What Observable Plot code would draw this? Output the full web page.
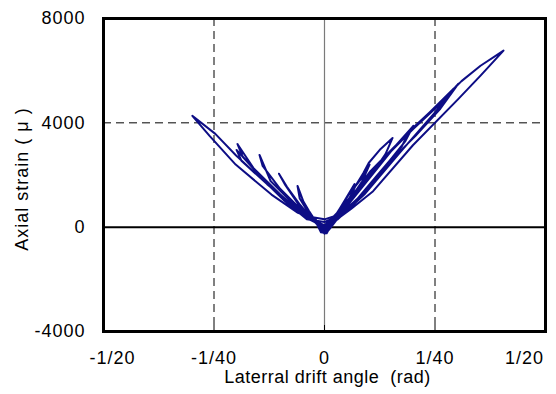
<!DOCTYPE html>
<html><head><meta charset="utf-8">
<script src="https://cdn.jsdelivr.net/npm/d3@7"></script>
<script src="https://cdn.jsdelivr.net/npm/@observablehq/plot@0.6"></script>
<style>
body{margin:0;background:#fff}
#chart svg text{font-family:"Liberation Sans",Arial,sans-serif;letter-spacing:1px}
#chart svg text.ttl{letter-spacing:0.6px}
</style></head><body><div id="chart"></div>
<script>
const driftAngle = [
  0, 0.0015, 0.0025, 0.0012, 0, -0.0013, -0.0025, -0.0012, 0,
  0.0018, 0.0035, 0.005, 0.0032, 0.0012, 0, -0.0018, -0.0035, -0.005, -0.0032, -0.0012, 0,
  0.002, 0.0045, 0.0068, 0.0066, 0.0042, 0.0015, 0.0005, -0.0008, -0.0018, -0.0042, -0.0061, -0.0056, -0.0035, -0.0012, 0,
  0.0022, 0.0055, 0.0085, 0.0102, 0.0085, 0.005, 0.0018, 0, -0.0025, -0.0055, -0.0085, -0.0103, -0.009, -0.0055, -0.0022, 0,
  0.0025, 0.0059, 0.007, 0.0088, 0.01, 0.0127, 0.0154, 0.0138, 0.0104, 0.0059, 0.0025, 0, -0.0032, -0.0077, -0.0122, -0.0147, -0.014, -0.01, -0.0054, -0.0014, 0.0005,
  0.0036, 0.0104, 0.016, 0.0201, 0.0183, 0.0138, 0.0081, 0.0032, 0, -0.004, -0.009, -0.015, -0.0197, -0.0185, -0.014, -0.008, -0.003, 0,
  0.004, 0.01, 0.0155, 0.0192, 0.0175, 0.012, 0.007, 0.002, 0, -0.004, -0.01, -0.016, -0.0199, -0.0188, -0.013, -0.007, -0.002, 0.0005,
  0.005, 0.012, 0.02, 0.026, 0.0303, 0.0262, 0.0206, 0.0149, 0.0093, 0.0036, 0, -0.005, -0.012, -0.02, -0.0247, -0.0299, -0.026, -0.0201, -0.012, -0.006, -0.002, -0.0005, 0.001,
  0.006, 0.015, 0.022, 0.0292, 0.025, 0.017, 0.009, 0.003, 0,
  0.006, 0.013, 0.02, 0.026, 0.031, 0.0353, 0.0405, 0.0353, 0.0303, 0.02, 0.011, 0.006, 0.002, 0
];
const axialStrain = [
  0, 180, 420, 120, -120, 120, 380, 80, -150,
  200, 650, 1080, 520, 30, -220, 180, 620, 1050, 480, 40, -230,
  300, 1000, 1650, 1400, 720, 80, -230, -200, 150, 720, 1580, 1100, 520, 20, -250,
  380, 1250, 1900, 2400, 1750, 880, 120, -200, 250, 850, 1550, 2050, 1650, 780, 200, -180,
  460, 1150, 1580, 2077, 2460, 3000, 3420, 2800, 1960, 1000, 420, 80, 310, 1000, 1770, 2770, 2350, 1460, 690, 150, -100,
  620, 2150, 3110, 3885, 3300, 2350, 1190, 420, 200, 300, 1000, 2000, 3190, 2700, 1850, 950, 300, -50,
  700, 2000, 3000, 3700, 3100, 2000, 1000, 250, 0, 350, 1250, 2250, 2960, 2550, 1650, 800, 200, -50,
  950, 2400, 3750, 4700, 5500, 4540, 3500, 2540, 1380, 500, 300, 450, 1500, 2750, 3577, 4269, 3500, 2400, 1250, 550, 300, -150, -100,
  1000, 2900, 4100, 5310, 4400, 2850, 1250, 300, 50,
  1100, 2550, 3800, 4750, 5600, 6190, 6770, 5808, 4920, 3140, 1380, 700, 200, 0
];
const xTicks = [-0.05, -0.025, 0, 0.025, 0.05];
const xTickLabels = ["-1/20", "-1/40", "0", "1/40", "1/20"];
const yTicks = [-4000, 0, 4000, 8000];
const yTickLabels = ["-4000", "0", "4000", "8000"];
const xTitle = "Laterral drift angle\u00a0 (rad)";
const yTitle = "Axial strain ( \u03bc )";

const data = driftAngle.map((x, i) => ({x, y: axialStrain[i]}));
const fmtX = d => xTickLabels[xTicks.indexOf(d)];
const fmtY = d => yTickLabels[yTicks.indexOf(d)];

const chart = Plot.plot({
  width: 556, height: 394,
  marginLeft: 103, marginRight: 11, marginTop: 18, marginBottom: 63,
  x: {domain: [-0.05, 0.05]},
  y: {domain: [-4000, 8000]},
  style: {fontSize: "18px", fontFamily: "'Liberation Sans', Arial, sans-serif", color: "#000", background: "#fff"},
  marks: [
    Plot.ruleX([xTicks[1], xTicks[3]], {stroke: "#000", strokeWidth: 1, strokeDasharray: "8,5"}),
    Plot.ruleY([yTicks[2]], {stroke: "#000", strokeWidth: 1, strokeDasharray: "8,5"}),
    Plot.ruleX([0], {stroke: "#7a7a7a", strokeWidth: 1.2}),
    Plot.ruleY([0], {stroke: "#000", strokeWidth: 2}),
    Plot.line(data, {x: "x", y: "y", stroke: "#0d0d85", strokeWidth: 2, strokeLinejoin: "round"}),
    Plot.frame({stroke: "#000", strokeWidth: 3}),
    Plot.axisX(xTicks.slice(1, 4), {tickSize: -6, text: null, label: null}),
    Plot.axisX(xTicks.slice(1, 4), {tickSize: 0, tickPadding: 20, tickFormat: fmtX, label: null}),
    Plot.axisX([xTicks[0]], {tickSize: 0, tickPadding: 20, tickFormat: fmtX, dx: 9, label: null}),
    Plot.axisX([xTicks[4]], {tickSize: 0, tickPadding: 20, tickFormat: fmtX, dx: -21, label: null}),
    Plot.axisY(yTicks, {tickSize: 0, tickPadding: 18, tickFormat: fmtY, label: null}),
    Plot.text([xTitle], {frameAnchor: "bottom", textAnchor: "middle", lineAnchor: "middle", dy: 46, dx: 3, fontSize: 18, className: "ttl"}),
    Plot.text([yTitle], {frameAnchor: "left", textAnchor: "middle", lineAnchor: "middle", rotate: -90, dx: -81, dy: 4, fontSize: 18})
  ]
});
chart.querySelectorAll("text").forEach(t => { if (t.textContent === xTitle) t.style.letterSpacing = "0.5px"; });
document.getElementById("chart").appendChild(chart);
</script></body></html>
